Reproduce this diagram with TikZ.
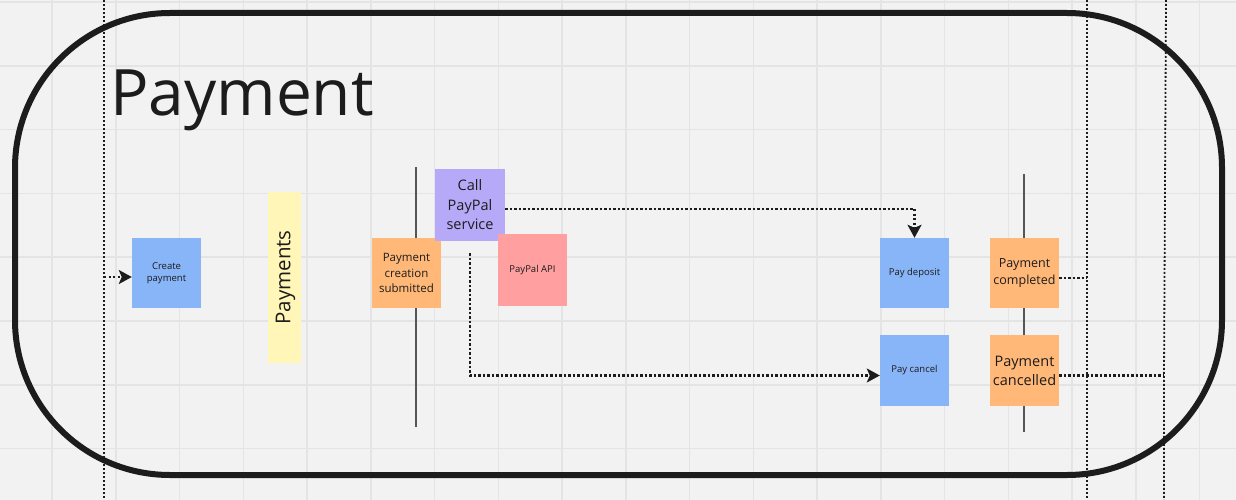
\documentclass[tikz,border=0pt]{standalone}
\usepackage{fontspec}
\setmainfont{Open Sans}
\usetikzlibrary{arrows.meta,calc}
\definecolor{bg}{HTML}{F2F2F2}
\definecolor{gridc}{HTML}{E4E4E4}
\definecolor{bluec}{HTML}{88B4F8}
\definecolor{orangec}{HTML}{FFB877}
\definecolor{purplec}{HTML}{B6AAF8}
\definecolor{pinkc}{HTML}{FF9F9F}
\definecolor{yellowc}{HTML}{FFF6B8}
\definecolor{inkc}{HTML}{1C1C1C}
\definecolor{barc}{HTML}{555555}
\tikzset{
  sticky/.style={minimum width=69pt,minimum height=70pt,inner sep=1pt,align=center,text=inkc,font=\fontsize{9.5}{12}\selectfont},
  dotline/.style={line width=2.3pt,dash pattern=on 2.3pt off 2.2pt,inkc},
  thinvdot/.style={line width=1.8pt,dash pattern=on 1.8pt off 2.2pt,inkc},
  arr/.style={-{Stealth[length=13pt,width=14pt,inset=3pt]}},
  bar/.style={line width=2pt,barc},
}
\begin{document}
\begin{tikzpicture}[x=1pt,y=-1pt]
\useasboundingbox (0,0) rectangle (1236,500);
\fill[bg] (0,0) rectangle (1236,500);
% grid
\foreach \k in {0,...,18} { \draw[gridc,line width=1.5pt] ({52+63.75*\k},0) -- ({52+63.75*\k},500); }
\foreach \k in {0,...,7} { \draw[gridc,line width=1.5pt] (0,{2+63.8*\k}) -- (1236,{2+63.8*\k}); }
% frame
\draw[inkc,line width=6pt,rounded corners=155pt] (15,13) rectangle (1222,475);
\node[anchor=base west,inner sep=0pt,text=inkc,font=\fontsize{64}{72}\selectfont] (title) at (110,116) {Payment};
% vertical dotted lines
\coordinate (lt) at (104,0); \coordinate (lb) at (104,500);
\coordinate (mt) at (1087,0); \coordinate (mb) at (1087,500);
\coordinate (rt) at (1166,0); \coordinate (rb) at (1164,500);
\draw[thinvdot] (lt) -- (lb);
\draw[thinvdot] (mt) -- (mb);
\draw[thinvdot] (rt) -- (1164,376) -- (rb);
% bars
\coordinate (b1t) at (416,167); \coordinate (b1b) at (416,427);
\coordinate (b2t) at (1024,174); \coordinate (b2b) at (1024,432);
\draw[bar] (b1t) -- (b1b);
\draw[bar] (b2t) -- (b2b);
% stickies
\node[sticky,fill=bluec] (create) at (166.5,273) {Create\\payment};
\node[sticky,fill=yellowc,minimum width=33pt,minimum height=171pt] (payments) at (284.5,277.5) {};
\node[rotate=90,text=inkc,font=\fontsize{20.5}{24}\selectfont] (paymentstxt) at (285.5,277.5) {Payments};
\node[sticky,fill=orangec,font=\fontsize{11.5}{15.5}\selectfont] (submitted) at (406.5,273) {Payment\\creation\\submitted};
\node[sticky,fill=purplec,minimum width=70pt,minimum height=72pt,font=\fontsize{14.5}{19.5}\selectfont] (call) at (470,205) {Call\\PayPal\\service};
\node[sticky,fill=pinkc,minimum height=72pt] (api) at (532.5,270) {PayPal API};
\node[sticky,fill=bluec] (paydep) at (914.5,273) {Pay deposit};
\node[sticky,fill=bluec,minimum height=71pt] (paycan) at (914.5,370.5) {Pay cancel};
\node[sticky,fill=orangec,font=\fontsize{12.5}{17}\selectfont] (completed) at (1024.5,273) {Payment\\completed};
\node[sticky,fill=orangec,minimum height=71pt,font=\fontsize{14.5}{19}\selectfont] (cancelled) at (1024.5,370.5) {Payment\\cancelled};
% connectors
\coordinate (lin) at (104,277);
\draw[dotline,arr] (lin) -- ([yshift=-4pt]create.west);
\draw[dotline,arr] ([yshift=-4pt]call.east) -| (paydep.north);
\draw[dotline,arr] ([yshift=-12pt]call.south) |- ([yshift=-5pt]paycan.west);
\draw[dotline] ([yshift=-5pt]completed.east) -- (1087,278);
\draw[dotline] ([yshift=-5pt]cancelled.east) -- (1164,375.5);
\end{tikzpicture}
\end{document}
